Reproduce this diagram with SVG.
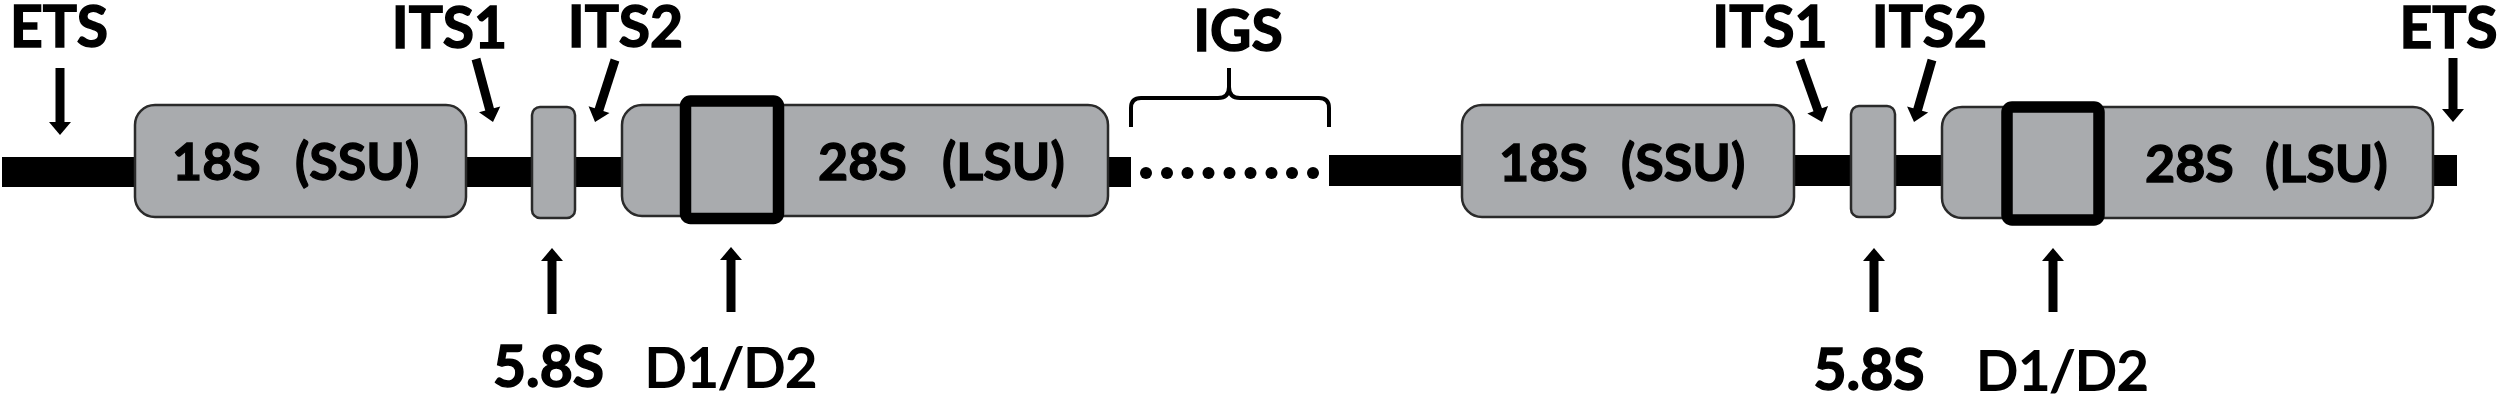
<svg xmlns="http://www.w3.org/2000/svg" width="2500" height="404" viewBox="0 0 2500 404">
<defs>
<style>
.bar{fill:#000}
.gene{fill:#A9ABAE;stroke:#2a2a2a;stroke-width:2.5}
.dom{fill:#A9ABAE;stroke:#000;stroke-width:11.5}
.lbl{font-family:Lato,"Open Sans","Liberation Sans",sans-serif;font-weight:700;font-size:57px;fill:#000;stroke:#000;stroke-width:1.5;text-anchor:middle}
.in{font-family:Lato,"Open Sans","Liberation Sans",sans-serif;font-weight:700;font-size:52px;fill:#000;stroke:#000;stroke-width:1.3}
.thin{font-family:Lato,"Open Sans","Liberation Sans",sans-serif;font-weight:400;font-size:55px;fill:#000;stroke:#000;stroke-width:2;text-anchor:middle}
.arr{stroke:#000;stroke-width:9;fill:none;marker-end:url(#head)}
.brace{stroke:#000;stroke-width:4;fill:none;stroke-linejoin:round}
.dot{fill:#000}
</style>
<marker id="head" markerUnits="userSpaceOnUse" markerWidth="13" markerHeight="22" refX="3" refY="11" orient="auto" overflow="visible">
<path d="M0,0 L13,11 L0,22 z" fill="#000"/>
</marker>
</defs>
<rect width="2500" height="404" fill="#fff"/>
<g id="backbone">
<rect class="bar" x="2" y="157" width="1129" height="30"/>
<rect class="bar" x="1329" y="155" width="1128" height="31"/>
</g>
<g id="igs-dots">
<circle class="dot" cx="1146" cy="173" r="6"/>
<circle class="dot" cx="1167" cy="173" r="6"/>
<circle class="dot" cx="1187.5" cy="173" r="6"/>
<circle class="dot" cx="1208.5" cy="173" r="6"/>
<circle class="dot" cx="1229.5" cy="173" r="6"/>
<circle class="dot" cx="1250.5" cy="173" r="6"/>
<circle class="dot" cx="1271.5" cy="173" r="6"/>
<circle class="dot" cx="1292" cy="173" r="6"/>
<circle class="dot" cx="1313" cy="173" r="6"/>
</g>
<g id="ssu1">
<rect class="gene" x="135" y="105" width="331" height="112" rx="20"/>
<text class="in" y="180"><tspan x="172">18S</tspan><tspan x="295">(SSU)</tspan></text>
</g>
<g id="s58-1">
<rect class="gene" x="532" y="107" width="43" height="111" rx="8"/>
</g>
<g id="lsu1">
<rect class="gene" x="622" y="105" width="486" height="111" rx="20"/>
<rect class="dom" x="685.5" y="101" width="93" height="117.5" rx="5"/>
<text class="in" y="180"><tspan x="818">28S</tspan><tspan x="942">(LSU)</tspan></text>
</g>
<g id="ssu2">
<rect class="gene" x="1462" y="105" width="332" height="112" rx="20"/>
<text class="in" y="181"><tspan x="1499">18S</tspan><tspan x="1621">(SSU)</tspan></text>
</g>
<g id="s58-2">
<rect class="gene" x="1851" y="106" width="44" height="111" rx="8"/>
</g>
<g id="lsu2">
<rect class="gene" x="1942" y="107" width="491" height="111" rx="20"/>
<rect class="dom" x="2007" y="107" width="92" height="113" rx="5"/>
<text class="in" y="182"><tspan x="2145">28S</tspan><tspan x="2265">(LSU)</tspan></text>
</g>
<g id="labels">
<text class="lbl" x="59" y="47">ETS</text>
<text class="lbl" x="449.5" y="48">ITS1</text>
<text class="lbl" x="625.5" y="47">ITS2</text>
<text class="lbl" x="1238" y="51">IGS</text>
<text class="lbl" x="1770" y="47">ITS1</text>
<text class="lbl" x="1929.5" y="47">ITS2</text>
<text class="lbl" x="2448.5" y="48">ETS</text>
<text class="lbl" x="548.5" y="387">5.8S</text>
<text class="thin" x="731" y="387">D1/D2</text>
<text class="lbl" x="1869" y="390">5.8S</text>
<text class="thin" x="2062.5" y="390">D1/D2</text>
</g>
<g id="connectors">
<line class="arr" x1="60" y1="68" x2="60" y2="125"/>
<line class="arr" x1="476" y1="59" x2="490.4" y2="112.3"/>
<line class="arr" x1="615" y1="60" x2="598.1" y2="112.5"/>
<line class="arr" x1="1800" y1="60" x2="1818.7" y2="112.6"/>
<line class="arr" x1="1932" y1="60" x2="1916.8" y2="112.4"/>
<line class="arr" x1="2453" y1="58" x2="2453" y2="112"/>
<line class="arr" x1="552" y1="314" x2="552" y2="258"/>
<line class="arr" x1="731" y1="312" x2="731" y2="257"/>
<line class="arr" x1="1874" y1="312" x2="1874" y2="258"/>
<line class="arr" x1="2053" y1="312" x2="2053" y2="258"/>
<path class="brace" d="M1131,127 L1131,108 Q1131,98 1141,98 L1218,98 Q1229,98 1229,87 L1229,68 M1229,87 Q1229,98 1240,98 L1319,98 Q1329,98 1329,108 L1329,127"/>
</g>
</svg>
